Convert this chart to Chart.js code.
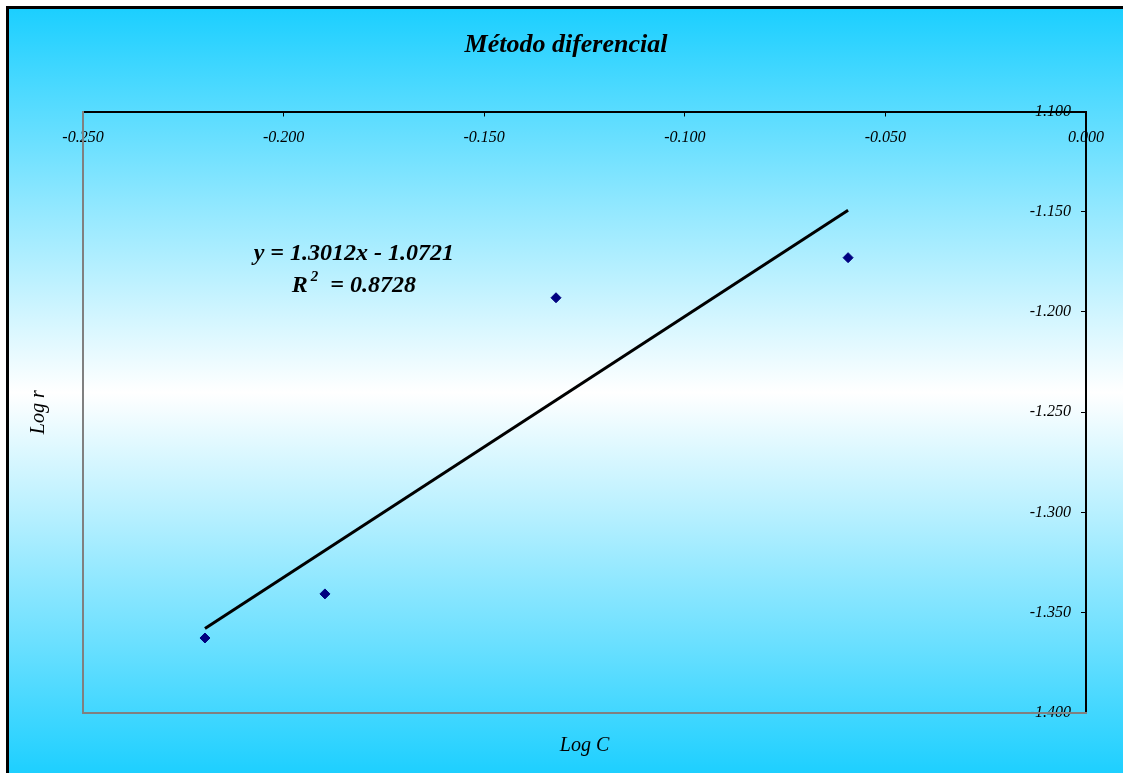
<!DOCTYPE html>
<html>
<head>
<meta charset="utf-8">
<script src="https://cdn.jsdelivr.net/npm/chart.js@4"></script>
<style>
    body { margin: 0; background: #ffffff; overflow: hidden; }
    #marco {
        position: absolute;
        left: 6px;
        top: 6px;
        width: 1117px;
        height: 767px;
        border-left: 3px solid #000;
        border-top: 3px solid #000;
        background: linear-gradient(to bottom, #1ccfff 0%, #ffffff 50%, #1ccfff 100%);
    }
    canvas { display: block; }
</style>
</head>
<body>
<div id="marco">
    <canvas id="grafico" width="1114" height="764"></canvas>
</div>
<script>
// Datos experimentales
const logC = [-0.2196, -0.1897, -0.1321, -0.0593];
const logR = [-1.3626, -1.3406, -1.1929, -1.1729];

// Ajuste lineal
const pendiente = 1.3012;
const ordenada = -1.0721;
const r2 = 0.8728;

// Marcas de los ejes
const ticksX = [-0.25, -0.2, -0.15, -0.1, -0.05, 0];
const ticksY = [-1.4, -1.35, -1.3, -1.25, -1.2, -1.15, -1.1];

const puntos = logC.map((x, i) => ({ x: x, y: logR[i] }));
const xMin = Math.min(...logC);
const xMax = Math.max(...logC);
const tendencia = [
    { x: xMin, y: pendiente * xMin + ordenada },
    { x: xMax, y: pendiente * xMax + ordenada }
];

const serif = "'Liberation Serif', 'Times New Roman', serif";
const fuenteTicks = { family: serif, size: 16, style: 'italic' };
const fuenteTitulos = { family: serif, size: 20, style: 'italic', lineHeight: 1.25 };

// Ecuación del ajuste dentro del área de trazado
const etiquetaEcuacion = {
    id: 'etiquetaEcuacion',
    afterDatasetsDraw(chart) {
        const ctx = chart.ctx;
        const sx = chart.scales.x;
        const sy = chart.scales.y;
        const cx = sx.getPixelForValue(-0.1825);
        const y1 = sy.getPixelForValue(-1.1709);
        const y2 = sy.getPixelForValue(-1.1869);
        const signo = ordenada < 0 ? ' - ' : ' + ';
        const linea1 = 'y = ' + pendiente.toFixed(4) + 'x' + signo + Math.abs(ordenada).toFixed(4);
        const fuente = 'italic bold 24px ' + serif;
        const fuenteSup = 'italic bold 15px ' + serif;

        ctx.save();
        ctx.fillStyle = '#000';
        ctx.textBaseline = 'middle';
        ctx.font = fuente;
        ctx.textAlign = 'center';
        ctx.fillText(linea1, cx, y1);

        // R² con superíndice
        ctx.textAlign = 'left';
        const partes = ['R', '2', '  = ' + r2.toFixed(4)];
        ctx.font = fuente;
        const wR = ctx.measureText(partes[0]).width;
        const wResto = ctx.measureText(partes[2]).width;
        ctx.font = fuenteSup;
        const w2 = ctx.measureText(partes[1]).width;
        let x = cx - (wR + w2 + 3 + wResto) / 2;
        ctx.font = fuente;
        ctx.fillText(partes[0], x, y2);
        x += wR + 3;
        ctx.font = fuenteSup;
        ctx.fillText(partes[1], x, y2 - 9);
        x += w2;
        ctx.font = fuente;
        ctx.fillText(partes[2], x, y2);
        ctx.restore();
    }
};

new Chart(document.getElementById('grafico'), {
    type: 'scatter',
    data: {
        datasets: [
            {
                label: 'Log r',
                data: puntos,
                pointStyle: 'rectRot',
                pointRadius: 5,
                backgroundColor: '#000080',
                borderColor: '#000080',
                borderWidth: 1,
                xAxisID: 'x',
                yAxisID: 'y'
            },
            {
                label: 'Lineal',
                data: tendencia,
                showLine: true,
                pointRadius: 0,
                borderColor: '#000',
                borderWidth: 3,
                xAxisID: 'x',
                yAxisID: 'y'
            }
        ]
    },
    options: {
        responsive: false,
        animation: false,
        layout: { padding: 0 },
        plugins: {
            legend: { display: false },
            tooltip: { enabled: false },
            title: {
                display: true,
                text: 'Método diferencial',
                color: '#000',
                font: { family: serif, size: 26, style: 'italic', weight: 'bold', lineHeight: 1.25 },
                padding: { top: 20, bottom: 0 }
            }
        },
        scales: {
            x: {
                type: 'linear',
                position: 'top',
                min: -0.25,
                max: 0,
                afterBuildTicks: s => { s.ticks = ticksX.map(v => ({ value: v })); },
                afterFit: s => { s.height = 50; },
                ticks: {
                    mirror: true,
                    padding: 17,
                    maxRotation: 0,
                    color: '#000',
                    font: fuenteTicks,
                    callback: v => v.toFixed(3)
                },
                grid: { drawOnChartArea: false, tickLength: -5, color: '#000', tickWidth: 1 },
                border: { color: '#000', width: 2 }
            },
            y: {
                type: 'linear',
                position: 'right',
                min: -1.4,
                max: -1.1,
                afterBuildTicks: s => { s.ticks = ticksY.map(v => ({ value: v })); },
                afterFit: s => { s.width = 37; },
                ticks: {
                    mirror: true,
                    padding: -15,
                    color: '#000',
                    font: fuenteTicks,
                    callback: v => v.toFixed(3)
                },
                grid: { drawOnChartArea: false, tickLength: -5, color: '#000', tickWidth: 1 },
                border: { color: '#000', width: 2 }
            },
            xb: {
                axis: 'x',
                type: 'linear',
                position: 'bottom',
                min: -0.25,
                max: 0,
                afterFit: s => { s.height = 60; },
                ticks: { display: false },
                grid: { display: false },
                border: { color: '#808080', width: 2 },
                title: { display: true, text: 'Log C', color: '#000', font: fuenteTitulos, padding: { top: 0, bottom: 15 } }
            },
            yl: {
                axis: 'y',
                type: 'linear',
                position: 'left',
                min: -1.4,
                max: -1.1,
                afterFit: s => { s.width = 74; },
                ticks: { display: false },
                grid: { display: false },
                border: { color: '#808080', width: 2 },
                title: { display: true, text: 'Log r', color: '#000', font: fuenteTitulos, padding: { top: 17, bottom: 0 } }
            }
        }
    },
    plugins: [etiquetaEcuacion]
});
</script>
</body>
</html>
